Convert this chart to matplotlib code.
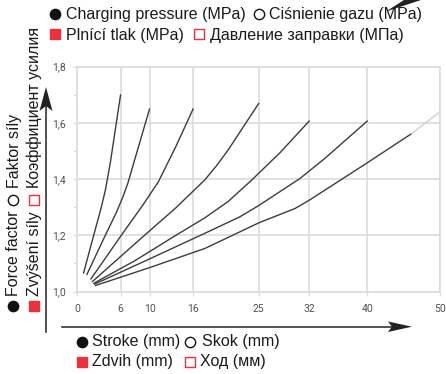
import matplotlib
matplotlib.use("Agg")
import matplotlib.pyplot as plt
from matplotlib.lines import Line2D
from matplotlib.patches import Polygon
from matplotlib.ticker import FixedLocator, FuncFormatter

# ---- data: force factor vs. stroke for each nominal stroke length ----
x_ticks = [0, 6, 10, 16, 25, 32, 40, 50]
y_ticks = [1.0, 1.2, 1.4, 1.6, 1.8]
y_minor = [1.1, 1.3, 1.5, 1.7]

s6_x = [0.9, 2.3, 3.3, 3.9, 4.6, 6.0]
s6_y = [1.065, 1.20, 1.295, 1.36, 1.46, 1.70]

s10_x = [1.35, 3.9, 5.4, 6.3, 7.0, 8.5, 10.0]
s10_y = [1.06, 1.20, 1.28, 1.335, 1.385, 1.518, 1.65]

s16_x = [1.9, 6.1, 9.0, 11.2, 13.6, 16.0]
s16_y = [1.044, 1.20, 1.305, 1.39, 1.515, 1.65]

s25_x = [2.1, 9.3, 13.5, 17.6, 19.2, 20.8, 25.05]
s25_y = [1.035, 1.20, 1.295, 1.397, 1.447, 1.503, 1.67]

s32_x = [2.3, 8.0, 13.3, 17.6, 20.8, 24.0, 28.0, 32.0]
s32_y = [1.029, 1.11, 1.195, 1.262, 1.32, 1.395, 1.495, 1.607]

s40_x = [2.4, 10.0, 17.6, 22.45, 25.1, 30.7, 34.2, 40.0]
s40_y = [1.026, 1.116, 1.207, 1.266, 1.307, 1.402, 1.475, 1.607]

s50_x = [2.5, 10.0, 17.6, 25.1, 30.0, 32.0, 36.2, 40.1, 46.1]
s50_y = [1.021, 1.085, 1.153, 1.245, 1.295, 1.325, 1.395, 1.46, 1.562]
s50_ext_x = [46.1, 50.0]
s50_ext_y = [1.562, 1.64]

curves = [(s6_x, s6_y), (s10_x, s10_y), (s16_x, s16_y), (s25_x, s25_y),
          (s32_x, s32_y), (s40_x, s40_y), (s50_x, s50_y)]

# ---- figure ----
W, H = 446, 374
fig = plt.figure(figsize=(W / 100, H / 100), dpi=100)


def P(x, y):
    """pixel position (top-left origin) -> figure fraction"""
    return x / W, 1 - y / H


left, right, top, bottom = 77, 440, 66.7, 291.5
ax = fig.add_axes([left / W, 1 - bottom / H, (right - left) / W, (bottom - top) / H])

grid_c = "#dcdcdc"
line_c = "#3c3c3c"
label_c = "#505050"

for cx, cy in curves:
    ax.plot(cx, cy, color=line_c, lw=1.0, solid_capstyle="round",
            solid_joinstyle="round", zorder=3)
ax.plot(s50_ext_x, s50_ext_y, color="#d0d0d0", lw=1.0, zorder=3)

ax.set_xlim(0, 50)
ax.set_ylim(1.0, 1.8)
ax.xaxis.set_major_locator(FixedLocator(x_ticks))
ax.yaxis.set_major_locator(FixedLocator(y_ticks))
ax.yaxis.set_minor_locator(FixedLocator(y_minor))
ax.yaxis.set_major_formatter(FuncFormatter(lambda v, p: f"{v:.1f}".replace(".", ",")))
ax.grid(True, which="major", color=grid_c, lw=1.2, zorder=0)
for s in ax.spines.values():
    s.set_color(grid_c)
    s.set_linewidth(1.2)
ax.tick_params(axis="both", which="both", color=grid_c, length=3, width=1.0,
               labelcolor=label_c, labelsize=7.5, direction="out")
ax.tick_params(axis="y", which="major", pad=5)
ax.tick_params(axis="x", which="major", pad=6)
for lab in ax.get_xticklabels() + ax.get_yticklabels():
    lab.set_family("Roboto")

# ---- legend-like captions ----
fnt = dict(family="Liberation Sans", fontsize=11.5, color="#1a1a1a")
red = "#e8323c"


def marker(x, y, kind, filled):
    if kind == "o":
        kw = dict(marker="o", ms=7.4, mew=1.0, mec="#111111",
                  mfc="#111111" if filled else "white")
    else:
        kw = dict(marker="s", ms=7.0, mew=1.0, mec=red,
                  mfc=red if filled else "white")
    fx, fy = P(x, y)
    fig.add_artist(Line2D([fx], [fy], transform=fig.transFigure, **kw))


def htext(x, y, s):
    fx, fy = P(x, y)
    fig.text(fx, fy, s, ha="left", va="baseline", **fnt)


def vtext(x, y, s):
    fx, fy = P(x, y)
    fig.text(fx, fy, s, ha="left", va="baseline", rotation=90,
             rotation_mode="anchor", **fnt)


# top: pressure
marker(55, 14, "o", True)
htext(66, 19.5, "Charging pressure (MPa)")
marker(258.5, 14, "o", False)
htext(269, 19.5, "Ciśnienie gazu (MPa)")
marker(55, 34, "s", True)
htext(66, 40, "Plnící tlak (MPa)")
marker(199, 34, "s", False)
htext(210, 40, "Давление заправки (МПа)")

# bottom: stroke
marker(81.5, 341.5, "o", True)
htext(91.5, 346, "Stroke (mm)")
marker(189.5, 341.5, "o", False)
htext(202, 346, "Skok (mm)")
marker(81.5, 361.5, "s", True)
htext(91.5, 366, "Zdvih (mm)")
marker(189.5, 361.5, "s", False)
htext(200, 366, "Ход (мм)")

# left: force factor (rotated)
marker(13, 306, "o", True)
vtext(18.5, 296, "Force factor")
marker(13, 200, "o", False)
vtext(18.5, 188, "Faktor síly")
marker(33.5, 306, "s", True)
vtext(39, 296, "Zvýšení síly")
marker(33.5, 200, "s", False)
vtext(39, 188, "Коэффициент усилия")

# ---- axis arrows ----
arrow_c = "#222222"


def seg(x0, y0, x1, y1):
    a, b = P(x0, y0)
    c, d = P(x1, y1)
    fig.add_artist(Line2D([a, c], [b, d], transform=fig.transFigure,
                          color=arrow_c, lw=1.1))


def head(pts):
    fig.add_artist(Polygon([P(*p) for p in pts], closed=True,
                           transform=fig.transFigure, color=arrow_c, lw=0))


seg(46, 332, 46, 100)
head([(46, 87), (39.5, 111), (46, 106), (52.5, 111)])
seg(62, 326.7, 400, 326.7)
head([(412, 326.7), (388, 321.5), (392, 326.7), (388, 332)])
# partial pointer at the top edge
head([(386, 11.5), (404, 0), (421, 0)])

fig.savefig("out.png", dpi=100)
